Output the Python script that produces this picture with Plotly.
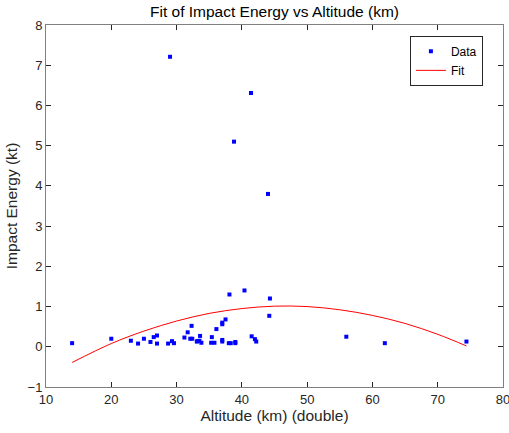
import plotly.graph_objects as go

# Data points (altitude km, impact energy kt)
alt = [14.0, 20.0, 23.0, 24.1, 25.0, 26.0, 26.5, 27.0, 27.0, 28.7, 29.3, 29.6,
       31.2, 31.7, 32.3, 32.1, 32.4, 33.1, 33.2, 33.5, 33.8, 33.6, 35.4, 35.3,
       35.8, 36.1, 37.0, 37.0, 37.5, 37.0, 37.0, 38.1, 38.0, 38.3, 39.0, 39.0,
       40.4, 41.5, 42.0, 42.2, 44.3, 44.2, 56.0, 61.9, 74.4,
       29.0, 41.4, 38.8, 44.0]
energy = [0.09, 0.20, 0.15, 0.08, 0.20, 0.12, 0.24, 0.28, 0.08, 0.08, 0.14, 0.09,
          0.23, 0.36, 0.52, 0.20, 0.20, 0.13, 0.14, 0.15, 0.10, 0.27, 0.24, 0.10,
          0.10, 0.44, 0.56, 0.60, 0.68, 0.17, 0.13, 1.30, 0.09, 0.09, 0.12, 0.09,
          1.40, 0.26, 0.19, 0.13, 1.20, 0.77, 0.25, 0.09, 0.13,
          7.21, 6.31, 5.10, 3.80]

# Fit curve samples
fit_x = [14, 20, 25, 30, 35, 40, 45, 50, 55, 60, 65, 70, 74.4]
fit_y = [-0.39, 0.08, 0.39, 0.64, 0.83, 0.95, 1.01, 1.00, 0.92, 0.78, 0.58, 0.31, 0.02]

x_ticks = [10, 20, 30, 40, 50, 60, 70, 80]
y_ticks = [-1, 0, 1, 2, 3, 4, 5, 6, 7, 8]

font = "Liberation Sans, Arial, sans-serif"
axcol = "#262626"

fig = go.Figure()
fig.add_trace(go.Scatter(x=alt, y=energy, mode="markers", name="Data",
                         marker=dict(symbol="square", size=4, color="#0000ff")))
fig.add_trace(go.Scatter(x=fit_x, y=fit_y, mode="lines", name="Fit",
                         line=dict(color="#ff0000", width=1, shape="spline")))

axis_common = dict(showgrid=False, zeroline=False, showline=True, linecolor="#808080",
                   linewidth=1, mirror="allticks", ticks="inside", ticklen=5,
                   tickcolor=axcol, ticklabeloverflow="allow", automargin=False,
                   tickfont=dict(family=font, size=13, color=axcol))

fig.update_layout(
    width=509, height=433,
    margin=dict(l=46, r=6, t=25, b=46, autoexpand=False),
    paper_bgcolor="white", plot_bgcolor="white",
    font=dict(family=font, color=axcol),
    title=dict(text="Fit of Impact Energy vs Altitude (km)", x=0.5, xref="paper",
               xanchor="center", y=1, yref="container", yanchor="top", pad=dict(t=6),
               font=dict(family=font, size=15.5, color="black")),
    xaxis=dict(range=[10, 80], tickvals=x_ticks,
               title=dict(text="Altitude (km) (double)", font=dict(family=font, size=15.5, color=axcol), standoff=3),
               **axis_common),
    yaxis=dict(range=[-1, 8], tickvals=y_ticks,
               title=dict(text="Impact Energy (kt)", font=dict(family=font, size=15.5, color=axcol), standoff=6),
               **axis_common),
    legend=dict(x=0.956, y=0.97, xanchor="right", yanchor="top",
                bordercolor=axcol, borderwidth=1, bgcolor="white",
                font=dict(family=font, size=12, color="black"),
                tracegroupgap=0, itemwidth=30),
    showlegend=True,
)

fig.write_html("out.html")
